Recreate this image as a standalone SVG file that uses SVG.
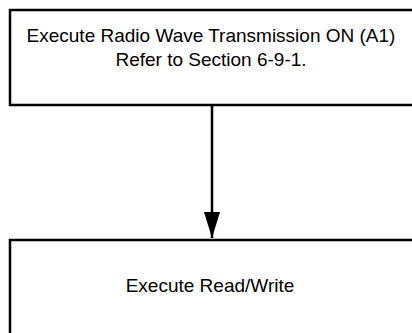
<svg xmlns="http://www.w3.org/2000/svg" width="412" height="333" viewBox="0 0 412 333">
<style>
.box{fill:#fff;stroke:#000;stroke-width:2.5}
.t{font-family:"Liberation Sans",Arial,sans-serif;font-size:19px;fill:#000;text-anchor:middle}
.c{stroke:#000;stroke-width:2.5;fill:none}
</style>
<defs>
<marker id="ah" markerUnits="userSpaceOnUse" markerWidth="26" markerHeight="16" refX="26" refY="8" orient="auto">
<path d="M0,0 L26,8 L0,16 Z" fill="#000"/>
</marker>
</defs>
<rect width="412" height="333" fill="#fff"/>
<g id="node1">
<rect class="box" x="10" y="10" width="410" height="95"/>
<text class="t" x="211" y="41.5">Execute Radio Wave Transmission ON (A1)</text>
<text class="t" x="211" y="65.5">Refer to Section 6-9-1.</text>
</g>
<g id="node2">
<rect class="box" x="10" y="240" width="410" height="110"/>
<text class="t" x="210" y="292">Execute Read/Write</text>
</g>
<g id="connectors">
<line class="c" x1="212" y1="105" x2="212" y2="238" marker-end="url(#ah)"/>
</g>
</svg>
